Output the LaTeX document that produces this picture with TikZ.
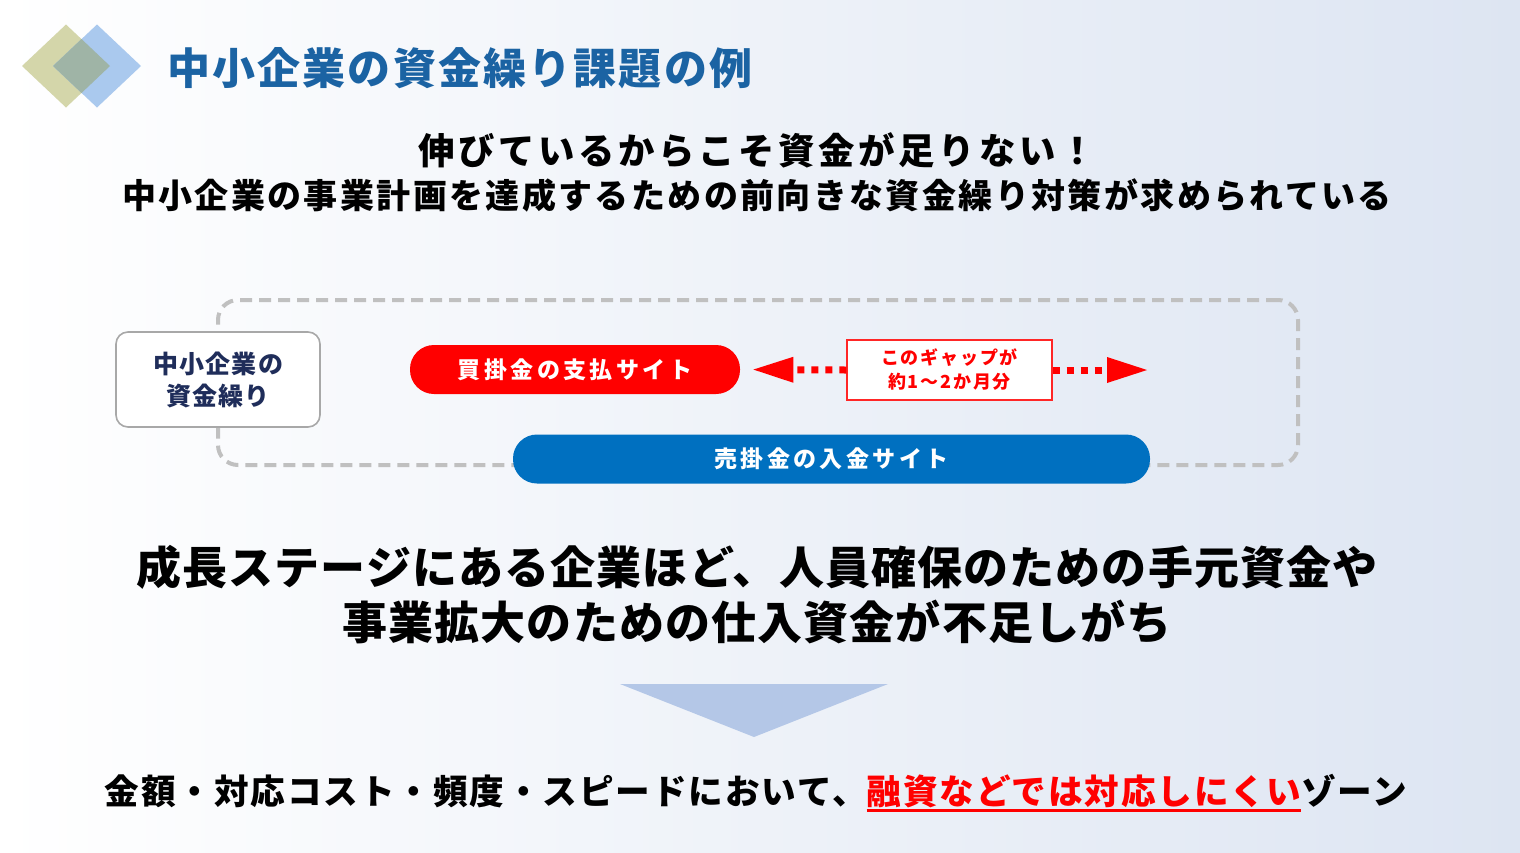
\documentclass[tikz,border=0pt]{standalone}
\usepackage{fontspec}
\setmainfont{Noto Sans CJK JP}
\usepackage{tikz}
\usetikzlibrary{shapes,arrows,arrows.meta,positioning}
\definecolor{titleblue}{RGB}{27,99,163}
\definecolor{navy}{RGB}{31,45,90}
\definecolor{payred}{RGB}{255,0,0}
\definecolor{recvblue}{RGB}{0,112,192}
\definecolor{dashgray}{RGB}{192,192,192}
\definecolor{boxgray}{RGB}{168,168,168}
\definecolor{bgblue}{RGB}{221,229,242}
\definecolor{logoolive}{RGB}{212,214,170}
\definecolor{logoblue}{RGB}{170,201,238}
\definecolor{logomix}{RGB}{159,180,166}
\definecolor{downblue}{RGB}{180,199,231}
\newcommand\ulred[1]{\setbox0=\hbox{#1}\rlap{\rule[-3.5pt]{\wd0}{1.1pt}}\box0}
\tikzstyle{title} = [text=titleblue, inner sep=0pt, font=\fontsize{21.5pt}{24pt}\selectfont\bfseries\addfontfeature{LetterSpace=5}]
\tikzstyle{lead} = [text=black, inner sep=0pt, font=\fontsize{17pt}{20pt}\selectfont\bfseries\addfontfeature{LetterSpace=7}]
\tikzstyle{big} = [text=black, inner sep=0pt, font=\fontsize{22.5pt}{26pt}\selectfont\bfseries\addfontfeature{LetterSpace=2.5}]
\tikzstyle{foot} = [text=black, inner sep=0pt, font=\fontsize{17.3pt}{20pt}\selectfont\bfseries\addfontfeature{LetterSpace=5.5}]
\tikzstyle{frame} = [draw=dashgray, line width=2pt, dash pattern=on 6pt off 3.5pt, rounded corners=10pt, minimum width=540pt, minimum height=82.5pt]
\tikzstyle{firm} = [draw=boxgray, line width=0.8pt, fill=white, rounded corners=6pt, minimum width=102pt, minimum height=47.5pt, align=center, text=navy, font=\fontsize{12.5pt}{16pt}\selectfont\bfseries\addfontfeature{LetterSpace=5}]
\tikzstyle{site} = [rounded corners=12pt, text=white, inner sep=0pt, minimum height=24.5pt, font=\fontsize{11.5pt}{14pt}\selectfont\bfseries\addfontfeature{LetterSpace=15}]
\tikzstyle{gapbox} = [draw=payred!85, line width=0.7pt, fill=white, minimum width=102.5pt, minimum height=30pt, align=center, text=payred, font=\fontsize{9pt}{12pt}\selectfont\bfseries\addfontfeature{LetterSpace=10}]
\tikzstyle{gapedge} = [draw=payred, line width=3.5pt, dash pattern=on 3.5pt off 3.5pt, -{Triangle[length=20pt,width=13pt,line width=0pt 0]}]

\begin{document}
\begin{tikzpicture}[x=0.5pt,y=-0.5pt]

% background =============================
\useasboundingbox (0,0) rectangle (1520,852);
\shade[left color=white, right color=bgblue] (0,0) rectangle (1520,852);

% logo
\fill[logoolive] (22,66) -- (66,24.5) -- (110,66) -- (66,107.5) -- cycle;
\fill[logoblue] (53,66) -- (97,24.5) -- (141,66) -- (97,107.5) -- cycle;
\fill[logomix] (53,66) -- (81.5,39) -- (110,66) -- (81.5,93) -- cycle;

% texts
\node[title, anchor=west] (title) at (167,68) {中小企業の資金繰り課題の例};
\node[lead, font=\fontsize{18.2pt}{21pt}\selectfont\bfseries\addfontfeature{LetterSpace=10}] (lead1) at (757,150) {伸びているからこそ資金が足りない！};
\node[lead, below=5pt of lead1] (lead2) {中小企業の事業計画を達成するための前向きな資金繰り対策が求められている};

% cycle ==================================
\node[frame] (cycle) at (758,382.5) {};
\node[firm] (firm) at (218,379.5) {中小企業の\\資金繰り};
\node[site, fill=payred, minimum width=165pt] (pay) at (575,369.5) {買掛金の支払サイト};
\node[site, fill=recvblue, minimum width=318.5pt] (recv) at (831.5,459) {売掛金の入金サイト};
\node[gapbox] (gap) at (949.5,370) {このギャップが\\約1～2か月分};
\coordinate (gapend) at (1147,370);

% edges
\path[gapedge, shorten >=6.5pt] (gap.west) -- (pay.east);
\path[gapedge] (gap.east) -- (gapend);

% result =================================
\node[big] (grow1) at (757,567) {成長ステージにある企業ほど、人員確保のための手元資金や};
\node[big, below=5pt of grow1] (grow2) {事業拡大のための仕入資金が不足しがち};
\fill[downblue] (620,684) -- (888,684) -- (754,737) -- cycle;
\node[foot] (zone) at (756,793) {金額・対応コスト・頻度・スピードにおいて、\textcolor{payred}{\ulred{融資などでは対応しにくい}}ゾーン};

\end{tikzpicture}
\end{document}
